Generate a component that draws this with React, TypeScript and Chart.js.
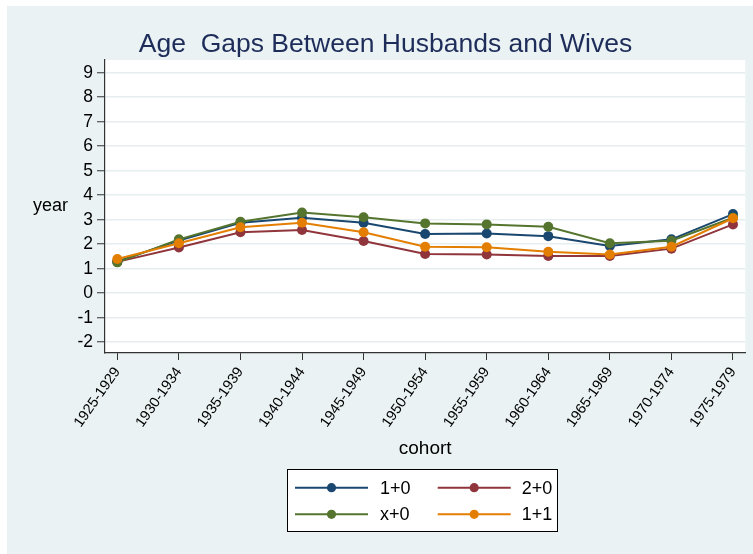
import React, { useEffect, useRef } from 'react';
import { Chart, registerables } from 'chart.js';

Chart.register(...registerables);

const TITLE = 'Age  Gaps Between Husbands and Wives';
const X_TITLE = 'cohort';
const Y_TITLE = 'year';

const COHORTS = [
  '1925-1929', '1930-1934', '1935-1939', '1940-1944', '1945-1949', '1950-1954',
  '1955-1959', '1960-1964', '1965-1969', '1970-1974', '1975-1979',
];
const Y_TICKS = [-2, -1, 0, 1, 2, 3, 4, 5, 6, 7, 8, 9];

const SERIES_LABELS = ['1+0', '2+0', 'x+0', '1+1'];
const S_1_0 = [1.30, 2.15, 2.88, 3.08, 2.88, 2.42, 2.44, 2.33, 1.93, 2.20, 3.23];
const S_2_0 = [1.28, 1.87, 2.49, 2.58, 2.13, 1.60, 1.58, 1.52, 1.52, 1.82, 2.81];
const S_X_0 = [1.26, 2.20, 2.92, 3.29, 3.10, 2.85, 2.81, 2.71, 2.04, 2.14, 3.08];
const S_1_1 = [1.40, 2.04, 2.69, 2.88, 2.49, 1.90, 1.88, 1.69, 1.58, 1.90, 3.06];

const SERIES = [S_1_0, S_2_0, S_X_0, S_1_1];
const COLORS = ['#1a476f', '#90353b', '#55752f', '#e37e00'];

const FONT = '"Liberation Sans", Arial, Helvetica, sans-serif';
const BG = '#eaf2f3';

const decorPlugin = {
  id: 'decor',
  beforeDraw(chart: any) {
    const { ctx, chartArea } = chart;
    ctx.save();
    ctx.fillStyle = BG;
    ctx.fillRect(7, 6, chart.width - 7, chart.height - 6);
    ctx.fillStyle = '#ffffff';
    ctx.fillRect(chartArea.left, chartArea.top, chartArea.right - chartArea.left, chartArea.bottom - chartArea.top);
    ctx.restore();
  },
  afterDraw(chart: any) {
    const { ctx, chartArea } = chart;
    ctx.save();
    // title
    ctx.fillStyle = '#1e2c5a';
    ctx.font = `26.5px ${FONT}`;
    ctx.textAlign = 'center';
    ctx.textBaseline = 'alphabetic';
    ctx.fillText(TITLE, 385.5, 52);
    // y title (horizontal)
    ctx.fillStyle = '#000';
    ctx.font = `18px ${FONT}`;
    ctx.textAlign = 'center';
    ctx.textBaseline = 'middle';
    ctx.fillText(Y_TITLE, 50.5, (chartArea.top + chartArea.bottom) / 2);
    // x title
    ctx.font = `19px ${FONT}`;
    ctx.fillText(X_TITLE, (chartArea.left + chartArea.right) / 2, 449);
    // legend
    const bx = 287.5, by = 469.5, bw = 270, bh = 62;
    ctx.fillStyle = '#ffffff';
    ctx.fillRect(bx, by, bw, bh);
    ctx.strokeStyle = '#000';
    ctx.lineWidth = 1;
    ctx.strokeRect(bx, by, bw, bh);
    const colX = [295, 437.7];
    const textX = [380, 521.7];
    const rowY = [487.7, 514.3];
    ctx.font = `18px ${FONT}`;
    ctx.textAlign = 'left';
    ctx.textBaseline = 'middle';
    chart.data.datasets.forEach((ds: any, i: number) => {
      const c = i % 2;
      const r = Math.floor(i / 2);
      const y = rowY[r];
      ctx.strokeStyle = ds.borderColor;
      ctx.lineWidth = 2;
      ctx.beginPath();
      ctx.moveTo(colX[c], y);
      ctx.lineTo(colX[c] + 73, y);
      ctx.stroke();
      ctx.fillStyle = ds.borderColor;
      ctx.beginPath();
      ctx.arc(colX[c] + 36.5, y, 4.6, 0, Math.PI * 2);
      ctx.fill();
      ctx.fillStyle = '#000';
      ctx.fillText(ds.label, textX[c], y + 1);
    });
    ctx.restore();
  },
};

export default function App() {
  const canvasRef = useRef<HTMLCanvasElement | null>(null);

  useEffect(() => {
    const canvas = canvasRef.current;
    if (!canvas) return;
    const datasets = SERIES.map((s, i) => ({
      label: SERIES_LABELS[i],
      data: s.map((v, j) => ({ x: j, y: v })),
      borderColor: COLORS[i],
      backgroundColor: COLORS[i],
      borderWidth: 2,
      pointRadius: 5,
      pointBorderWidth: 0,
      pointBackgroundColor: COLORS[i],
      tension: 0,
      order: SERIES.length - 1 - i,
    }));
    const chart = new Chart(canvas, {
      type: 'line',
      data: { datasets },
      plugins: [decorPlugin],
      options: {
        responsive: false,
        animation: false,
        devicePixelRatio: 1,
        layout: { padding: { top: 60, left: 0, right: 7.7, bottom: 0 } },
        plugins: {
          legend: { display: false },
          title: { display: false },
          tooltip: { enabled: false },
        },
        scales: {
          x: {
            type: 'linear',
            min: -0.2,
            max: 10.2,
            afterBuildTicks: (s: any) => {
              s.ticks = COHORTS.map((_, i) => ({ value: i }));
            },
            afterFit: (s: any) => {
              s.height = 201;
              s.paddingLeft = 0;
              s.paddingRight = 0;
            },
            grid: {
              drawOnChartArea: false,
              drawTicks: true,
              tickLength: 7,
              tickColor: '#333',
            },
            border: { display: true, color: '#333', width: 1.2 },
            ticks: {
              autoSkip: false,
              minRotation: 55,
              maxRotation: 55,
              padding: 4,
              color: '#000',
              font: { family: FONT, size: 14.5 },
              callback: (v: any) => COHORTS[Math.round(Number(v))] ?? '',
            },
          },
          y: {
            type: 'linear',
            min: -2.44,
            max: 9.52,
            afterBuildTicks: (s: any) => {
              s.ticks = Y_TICKS.map((v) => ({ value: v }));
            },
            afterFit: (s: any) => {
              s.width = 105;
              s.paddingTop = 0;
              s.paddingBottom = 0;
            },
            grid: {
              color: '#e6eef0',
              lineWidth: 1.5,
              drawTicks: true,
              tickLength: 8,
              tickColor: '#333',
              tickWidth: 1,
            },
            border: { display: true, color: '#333', width: 1.2 },
            ticks: {
              padding: 4,
              color: '#000',
              font: { family: FONT, size: 17.5 },
              callback: (v: any) => String(v),
            },
          },
        },
      },
    });
    return () => chart.destroy();
  }, []);

  return (
    <div style={{ position: 'fixed', left: 0, top: 0, width: 753, height: 554, background: '#fff' }}>
      <canvas ref={canvasRef} width={753} height={554} style={{ display: 'block', width: 753, height: 554 }} />
    </div>
  );
}
